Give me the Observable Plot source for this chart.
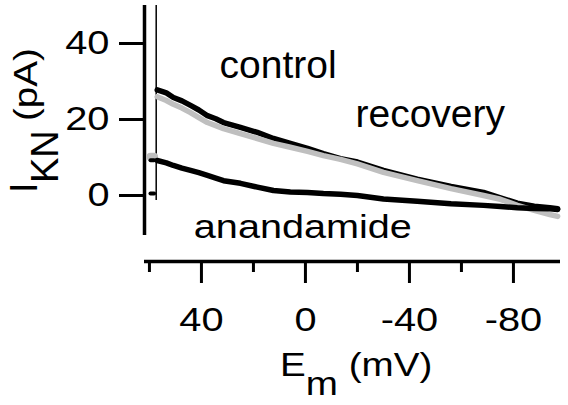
<!DOCTYPE html>
<html><head><meta charset="utf-8">
<script src="https://cdn.jsdelivr.net/npm/d3@7"></script>
<script src="https://cdn.jsdelivr.net/npm/@observablehq/plot@0.6"></script>
<style>html,body{margin:0;padding:0;background:#fff}svg{display:block}</style>
</head><body><div id="chart"></div>
<script>
// membrane potential samples (mV)
const mV = [57, 53.5, 50.8, 47.5, 44.2, 41, 37.7, 34.5, 31.5, 25, 18.5, 12.3, 5.8, -0.8, -6.9, -13.5, -20, -30, -43, -56, -68.5, -75, -81.5, -88, -94, -97];
// currents (pA)
const control    = [27.8, 27.0, 25.8, 24.9, 23.7, 22.5, 21.0, 20.2, 19.2, 17.9, 16.6, 15.0, 13.7, 12.4, 11.0, 9.7, 8.8, 6.6, 4.3, 2.4, 0.8, -0.6, -2.0, -2.8, -3.2, -3.5];
const recovery   = [26.0, 25.0, 24.0, 23.0, 21.8, 20.5, 19.2, 18.4, 17.6, 16.3, 15.0, 13.7, 12.7, 11.6, 10.5, 9.5, 8.3, 6.1, 3.9, 1.8, 0.0, -1.0, -2.6, -3.9, -5.0, -5.5];
const anandamide = [9.2, 8.6, 7.9, 7.2, 6.6, 6.0, 5.3, 4.6, 3.9, 3.2, 2.2, 1.3, 0.9, 0.8, 0.5, 0.3, 0.0, -0.9, -1.5, -2.2, -2.6, -2.9, -3.2, -3.4, -3.5, -3.7];
// before the voltage step
const preMv = [59.6, 58.2];
const controlPre = [9.3, 9.3];
const recoveryPre = [10.2, 10.2];
const anandamidePre = [0.5, 0.5];
// transient at the step
const artifactMv = [57.4];
const artifactRange = [-1.3, 50];
// scales and ticks
const xDomain = [61.9, -98.1];
const yDomain = [-17.37, 50];
const yAxisMin = -10.5;
const xMajorTicks = [40, 0, -40, -80];
const xMinorTicks = [60, 20, -20, -60];
const yTicks = [0, 20, 40];
// trace labels
const bigLabels = ["control", "recovery"];
const bigLabelMv = [10.5, -48];
const bigLabelPa = [34.3, 21.2];
const smallLabels = ["anandamide"];
const smallLabelMv = [1];
const smallLabelPa = [-8.3];

const FONT = "'Liberation Sans', Arial, Helvetica, sans-serif";
const grey = "#bfbfbf";

function titles() {
  const g = d3.create("svg:g").attr("font-family", FONT).attr("fill", "#000").attr("text-anchor", "start");
  // y title
  g.append("text").attr("transform", "translate(37,193) rotate(-90)").attr("font-size", 38).text("I");
  g.append("text").attr("transform", "translate(58,183) rotate(-90)").attr("font-size", 38).text("KN");
  g.append("text").attr("class", "stretch").attr("transform", "translate(37,121) rotate(-90)").attr("font-size", 33).text("(pA)");
  // x title
  const t = g.append("text").attr("class", "stretch").attr("x", 280).attr("y", 376).attr("font-size", 33);
  t.append("tspan").text("E");
  t.append("tspan").attr("dy", 19).text("m");
  t.append("tspan").attr("dy", -19).text(" (mV)");
  return g.node();
}

const svg = Plot.plot({
  width: 568,
  height: 405,
  marginLeft: 144,
  marginRight: 8,
  marginTop: 5,
  marginBottom: 144,
  style: {fontFamily: FONT, fontSize: "34px", color: "#000", background: "#fff"},
  x: {domain: xDomain, axis: null},
  y: {domain: yDomain, axis: null},
  marks: [
    Plot.ruleX([xDomain[0]], {y1: yAxisMin, y2: yDomain[1], strokeWidth: 3.5}),
    Plot.ruleY([yDomain[0]], {strokeWidth: 3.5}),
    Plot.axisY({ticks: yTicks, tickSize: 25, tickPadding: 10, strokeWidth: 3, tickFormat: d => String(d), label: null, fontSize: 34}),
    Plot.axisX({ticks: xMajorTicks, tickSize: 22, tickPadding: 23, strokeWidth: 3, tickFormat: d => String(d), label: null, fontSize: 34}),
    Plot.axisX({ticks: xMinorTicks, tickSize: 11, strokeWidth: 3, tickFormat: () => "", label: null}),
    Plot.ruleX(artifactMv, {y1: artifactRange[0], y2: artifactRange[1], strokeWidth: 1.5}),
    Plot.line({length: preMv.length}, {x: preMv, y: recoveryPre, stroke: grey, strokeWidth: 8}),
    Plot.line({length: preMv.length}, {x: preMv, y: controlPre, stroke: "#000", strokeWidth: 4}),
    Plot.line({length: preMv.length}, {x: preMv, y: anandamidePre, stroke: "#000", strokeWidth: 4}),
    Plot.line({length: mV.length}, {x: mV, y: control, stroke: "#000", strokeWidth: 5.5}),
    Plot.line({length: mV.length}, {x: mV, y: recovery, stroke: grey, strokeWidth: 5.5}),
    Plot.line({length: mV.length}, {x: mV, y: anandamide, stroke: "#000", strokeWidth: 5.5}),
    Plot.text(bigLabels, {x: bigLabelMv, y: bigLabelPa, text: d => d, fontSize: 39, fill: "#000"}),
    Plot.text(smallLabels, {x: smallLabelMv, y: smallLabelPa, text: d => d, fontSize: 33, fill: "#000"}),
    titles
  ]
});
document.getElementById("chart").append(svg);
function stretch(t, k) {
  const L = t.getComputedTextLength();
  t.setAttribute("textLength", (L * k).toFixed(1));
  t.setAttribute("lengthAdjust", "spacingAndGlyphs");
}
svg.querySelectorAll('g[aria-label="x-axis tick label"] text, g[aria-label="y-axis tick label"] text, text.stretch')
  .forEach(t => stretch(t, 1.17));
svg.querySelectorAll("text").forEach(t => { if (t.textContent === smallLabels[0]) stretch(t, 1.2); });
</script>
</body></html>
